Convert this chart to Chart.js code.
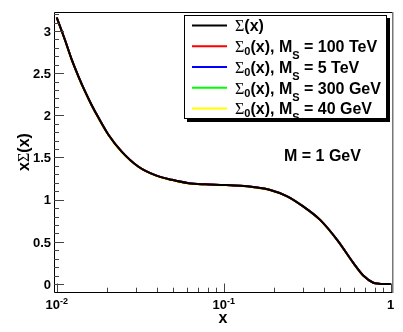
<!DOCTYPE html>
<html>
<head>
<meta charset="utf-8">
<script src="https://cdn.jsdelivr.net/npm/chart.js@4.4.0/dist/chart.umd.min.js"></script>
<style>
  html, body { margin: 0; padding: 0; background: #fff; }
  #wrap { width: 403px; height: 332px; position: relative; }
</style>
</head>
<body>
<div id="wrap"><canvas id="sigmaPlot"></canvas></div>
<script>
// x grid (log axis) and x*Sigma(x)
const xValues = [0.01, 0.01122, 0.0123, 0.0135, 0.0148, 0.0162, 0.0178, 0.0204, 0.0245, 0.0309, 0.0389, 0.0490, 0.0617, 0.0776, 0.100, 0.126, 0.150, 0.190, 0.240, 0.299, 0.378, 0.479, 0.597, 0.685, 0.787, 0.85, 0.90, 1.0];
const sigmaFull     = [3.16, 2.89, 2.66, 2.46, 2.28, 2.12, 1.97, 1.77, 1.57, 1.39, 1.29, 1.235, 1.195, 1.182, 1.175, 1.165, 1.15, 1.115, 1.04, 0.92, 0.76, 0.52, 0.25, 0.10, 0.015, 0.003, 0.00, 0.00];
const sigma0_100TeV = [3.16, 2.89, 2.66, 2.46, 2.28, 2.12, 1.97, 1.77, 1.57, 1.39, 1.29, 1.235, 1.195, 1.182, 1.175, 1.165, 1.15, 1.115, 1.04, 0.92, 0.76, 0.52, 0.25, 0.10, 0.015, 0.003, 0.00, 0.00];
const sigma0_5TeV   = [3.16, 2.89, 2.66, 2.46, 2.28, 2.12, 1.97, 1.77, 1.57, 1.39, 1.29, 1.235, 1.195, 1.182, 1.175, 1.165, 1.15, 1.115, 1.04, 0.92, 0.76, 0.52, 0.25, 0.10, 0.015, 0.003, 0.00, 0.00];
const sigma0_300GeV = [3.16, 2.89, 2.66, 2.46, 2.28, 2.12, 1.97, 1.77, 1.57, 1.39, 1.29, 1.235, 1.195, 1.182, 1.175, 1.165, 1.15, 1.115, 1.04, 0.92, 0.76, 0.52, 0.25, 0.10, 0.015, 0.003, 0.00, 0.00];
const sigma0_40GeV  = [3.15, 2.88, 2.65, 2.45, 2.27, 2.11, 1.96, 1.76, 1.56, 1.385, 1.285, 1.23, 1.19, 1.178, 1.171, 1.161, 1.146, 1.111, 1.036, 0.916, 0.756, 0.516, 0.246, 0.097, 0.013, 0.002, 0.00, 0.00];

const massLabels = ["", "100 TeV", "5 TeV", "300 GeV", "40 GeV"];
const seriesColors = ["#000000", "#ff0000", "#0000ff", "#00ff00", "#ffff00"];
const yTickLabels = [0, 0.5, 1, 1.5, 2, 2.5, 3];
const xTickLabels = [0.01, 0.1, 1];
const xMinorTicks = [0.02, 0.03, 0.04, 0.05, 0.06, 0.07, 0.08, 0.09, 0.2, 0.3, 0.4, 0.5, 0.6, 0.7, 0.8, 0.9];

const allSeries = [sigmaFull, sigma0_100TeV, sigma0_5TeV, sigma0_300GeV, sigma0_40GeV];

const BOLD = "bold 16px 'Liberation Sans', Arial, sans-serif";
const SYM = "16px 'Liberation Serif', 'DejaVu Serif', serif";
const SUB = "bold 11px 'Liberation Sans', Arial, sans-serif";
const TICK = "bold 13px 'Liberation Sans', Arial, sans-serif";
const SUP = "bold 9px 'Liberation Sans', Arial, sans-serif";

function textWidth(ctx, parts) {
  let w = 0;
  parts.forEach(p => { ctx.font = p.f; w += ctx.measureText(p.t).width; });
  return w;
}
function drawParts(ctx, parts, x, y) {
  parts.forEach(p => {
    ctx.font = p.f;
    ctx.fillText(p.t, x, y + (p.dy || 0));
    x += ctx.measureText(p.t).width;
  });
}

const rootFrame = {
  id: "rootFrame",
  afterDatasetsDraw(chart) {
    const ctx = chart.ctx;
    const a = chart.chartArea;
    const xs = chart.scales.x, ys = chart.scales.y;
    ctx.save();
    ctx.fillStyle = "#000";
    ctx.textBaseline = "alphabetic";

    // frame
    ctx.lineWidth = 1;
    ctx.strokeStyle = "#000";
    ctx.beginPath();
    ctx.moveTo(a.right + 0.5, a.top + 0.5);
    ctx.lineTo(a.left + 0.5, a.top + 0.5);
    ctx.lineTo(a.left + 0.5, a.bottom + 0.5);
    ctx.lineTo(a.right + 0.5, a.bottom + 0.5);
    ctx.stroke();
    ctx.strokeStyle = "#777";
    ctx.lineWidth = 1.5;
    ctx.beginPath();
    ctx.moveTo(a.right + 0.75, a.top);
    ctx.lineTo(a.right + 0.75, a.bottom + 1);
    ctx.stroke();

    // y ticks
    ctx.strokeStyle = "#444";
    ctx.lineWidth = 1;
    for (let k = 0; k <= 32; k++) {
      const v = k / 10;
      const py = Math.round(ys.getPixelForValue(v)) + 0.5;
      const len = (k % 5 === 0) ? 10 : 5;
      ctx.beginPath();
      ctx.moveTo(a.left, py);
      ctx.lineTo(a.left + len, py);
      ctx.stroke();
    }
    ctx.font = TICK;
    ctx.textAlign = "right";
    yTickLabels.forEach(v => {
      const py = ys.getPixelForValue(v);
      ctx.fillText(String(v), a.left - 3, py + 4.7);
    });

    // x ticks
    xTickLabels.forEach(v => {
      const px = Math.round(xs.getPixelForValue(v)) + 0.5;
      ctx.beginPath();
      ctx.moveTo(px, a.bottom);
      ctx.lineTo(px, a.bottom - 8.5);
      ctx.stroke();
    });
    xMinorTicks.forEach(v => {
      const px = Math.round(xs.getPixelForValue(v)) + 0.5;
      ctx.beginPath();
      ctx.moveTo(px, a.bottom);
      ctx.lineTo(px, a.bottom - 4.3);
      ctx.stroke();
    });
    ctx.textAlign = "left";
    xTickLabels.forEach(v => {
      const px = xs.getPixelForValue(v);
      const e = Math.round(Math.log10(v));
      const parts = e === 0 ? [{ t: "1", f: TICK }] : [{ t: "10", f: TICK }, { t: String(e), f: SUP, dy: -5 }];
      const w = textWidth(ctx, parts);
      drawParts(ctx, parts, px - w / 2, 309);
    });

    // axis titles
    ctx.font = BOLD;
    ctx.textAlign = "center";
    ctx.fillText("x", (a.left + a.right) / 2, 323);
    ctx.textAlign = "left";
    const yTitle = [{ t: "x", f: BOLD }, { t: "\u03A3", f: SYM }, { t: "(x)", f: BOLD }];
    ctx.save();
    ctx.translate(23, (a.top + a.bottom) / 2);
    ctx.rotate(-Math.PI / 2);
    drawParts(ctx, yTitle, -textWidth(ctx, yTitle) / 2, 5.7);
    ctx.restore();

    // legend box with shadow
    const lx = 184, ly = 15, lw = 203, lh = 104;
    ctx.fillStyle = "#000";
    ctx.fillRect(lx + 3, ly + 3, lw, lh);
    ctx.fillStyle = "#fff";
    ctx.fillRect(lx, ly, lw, lh);
    ctx.strokeStyle = "#000";
    ctx.lineWidth = 1;
    ctx.strokeRect(lx + 0.5, ly + 0.5, lw - 1, lh - 1);
    const rowH = lh / massLabels.length;
    massLabels.forEach((m, i) => {
      const cy = ly + rowH * (i + 0.5);
      ctx.strokeStyle = seriesColors[i];
      ctx.lineWidth = 2;
      ctx.beginPath();
      ctx.moveTo(192, cy);
      ctx.lineTo(227, cy);
      ctx.stroke();
      ctx.fillStyle = "#000";
      const parts = i === 0
        ? [{ t: "\u03A3", f: SYM }, { t: "(x)", f: BOLD }]
        : [{ t: "\u03A3", f: SYM }, { t: "0", f: SUB, dy: 3 }, { t: "(x), M", f: BOLD }, { t: "S", f: SUB, dy: 7 }, { t: " = " + m, f: BOLD }];
      drawParts(ctx, parts, 235, cy + 5.7);
    });

    ctx.font = BOLD;
    ctx.fillText("M = 1 GeV", 284, 161);
    ctx.restore();
  }
};

new Chart(document.getElementById("sigmaPlot"), {
  type: "scatter",
  data: {
    datasets: allSeries.map((ys, i) => ({
      data: xValues.map((x, j) => ({ x: x, y: ys[j] })),
      showLine: true,
      borderColor: seriesColors[i],
      borderWidth: 2,
      pointRadius: 0,
      cubicInterpolationMode: "monotone",
    })),
  },
  options: {
    responsive: true,
    maintainAspectRatio: false,
    animation: false,
    layout: { padding: { left: 54, top: 12, right: 11, bottom: 40 } },
    scales: {
      x: { type: "logarithmic", min: 0.00963, max: 1.018, display: false },
      y: { type: "linear", min: -0.095, max: 3.225, display: false },
    },
    plugins: {
      legend: { display: false },
      tooltip: { enabled: false },
    },
  },
  plugins: [rootFrame],
});
</script>
</body>
</html>
